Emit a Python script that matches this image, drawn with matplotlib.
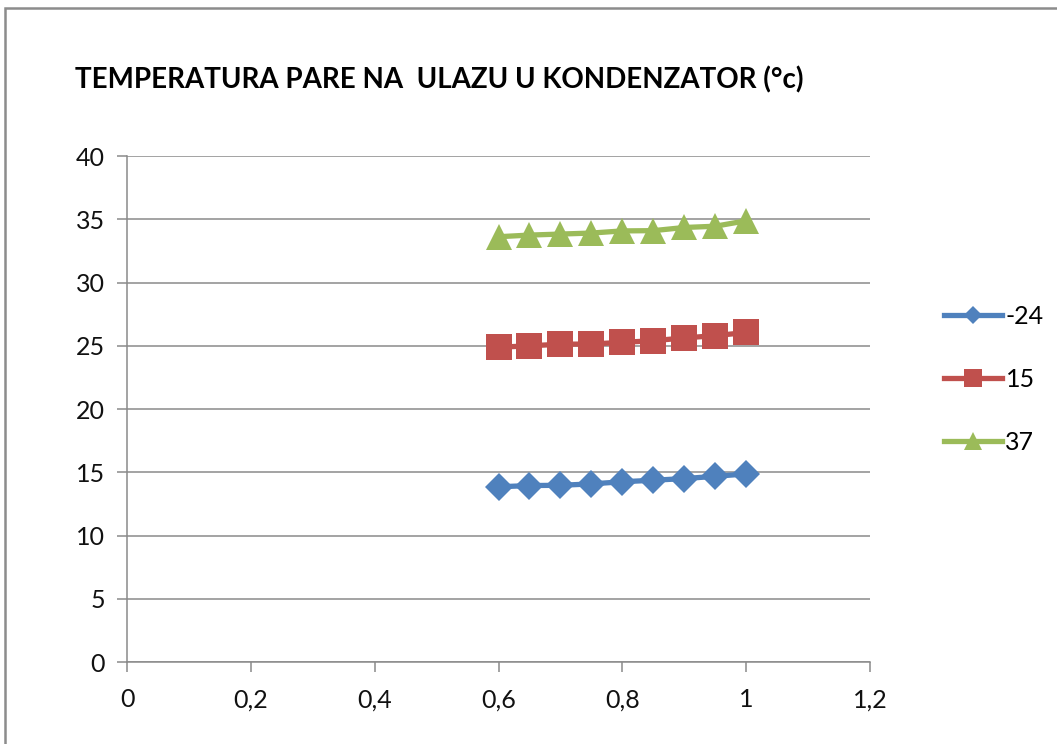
import matplotlib.pyplot as plt
from matplotlib.lines import Line2D
from matplotlib.patches import Rectangle
from matplotlib.ticker import FuncFormatter

plt.rcParams['font.family'] = ['Lato', 'DejaVu Sans']

x = [0.6, 0.65, 0.7, 0.75, 0.8, 0.85, 0.9, 0.95, 1.0]
t_m24 = [13.85, 13.95, 13.97, 14.08, 14.25, 14.37, 14.5, 14.68, 14.87]
t_15 = [24.88, 25.0, 25.12, 25.14, 25.27, 25.4, 25.62, 25.8, 26.05]
t_37 = [33.62, 33.75, 33.83, 33.91, 34.08, 34.1, 34.35, 34.45, 34.88]

labels = ['-24', '15', '37']
colors = ['#4F81BD', '#C0504D', '#9BBB59']
markers = ['D', 's', '^']
sizes = [14, 19, 19]

fig = plt.figure(figsize=(10.57, 7.44), dpi=100)
fig.patches.append(Rectangle((0.0045, -0.1), 1.2, 1.089, transform=fig.transFigure,
                             fill=False, edgecolor='#8c8c8c', linewidth=1.8))

ax = fig.add_axes([0.1202, 0.1102, 0.7029, 0.6801])
for ys, lab, c, m, s in zip([t_m24, t_15, t_37], labels, colors, markers, sizes):
    ax.plot(x, ys, color=c, marker=m, markersize=s, linewidth=3.8,
            markeredgewidth=0, label=lab)

ax.set_xlim(0, 1.2)
ax.set_ylim(0, 40)
ax.set_xticks([0, 0.2, 0.4, 0.6, 0.8, 1.0, 1.2])
ax.set_yticks(range(0, 41, 5))
ax.xaxis.set_major_formatter(FuncFormatter(lambda v, p: ('%g' % round(v, 1)).replace('.', ',')))
ax.yaxis.grid(True, color='#8a8a8a', linewidth=1.1)
ax.set_axisbelow(True)
for side in ['top', 'right']:
    ax.spines[side].set_visible(False)
for side in ['left', 'bottom']:
    ax.spines[side].set_color('#8a8a8a')
    ax.spines[side].set_linewidth(1.1)
ax.tick_params(axis='both', direction='out', length=7, color='#8a8a8a',
               width=1.1, labelsize=18, labelcolor='#111111')
ax.tick_params(axis='x', pad=12)
ax.tick_params(axis='y', pad=9)

fig.text(0.071, 0.893, 'TEMPERATURA PARE NA  ULAZU U KONDENZATOR (°c)',
         fontsize=20, fontweight='bold', va='center', ha='left')

handles = [Line2D([], [], color=c, marker=m, markersize=s * 0.65, linewidth=3.8,
                  markeredgewidth=0) for c, m, s in zip(colors, markers, sizes)]
fig.legend(handles, labels, loc='center left', bbox_to_anchor=(0.872, 0.49),
           frameon=False, fontsize=18, handlelength=2.3, handletextpad=0.15,
           labelspacing=1.6)

fig.savefig('out.png', dpi=100)
